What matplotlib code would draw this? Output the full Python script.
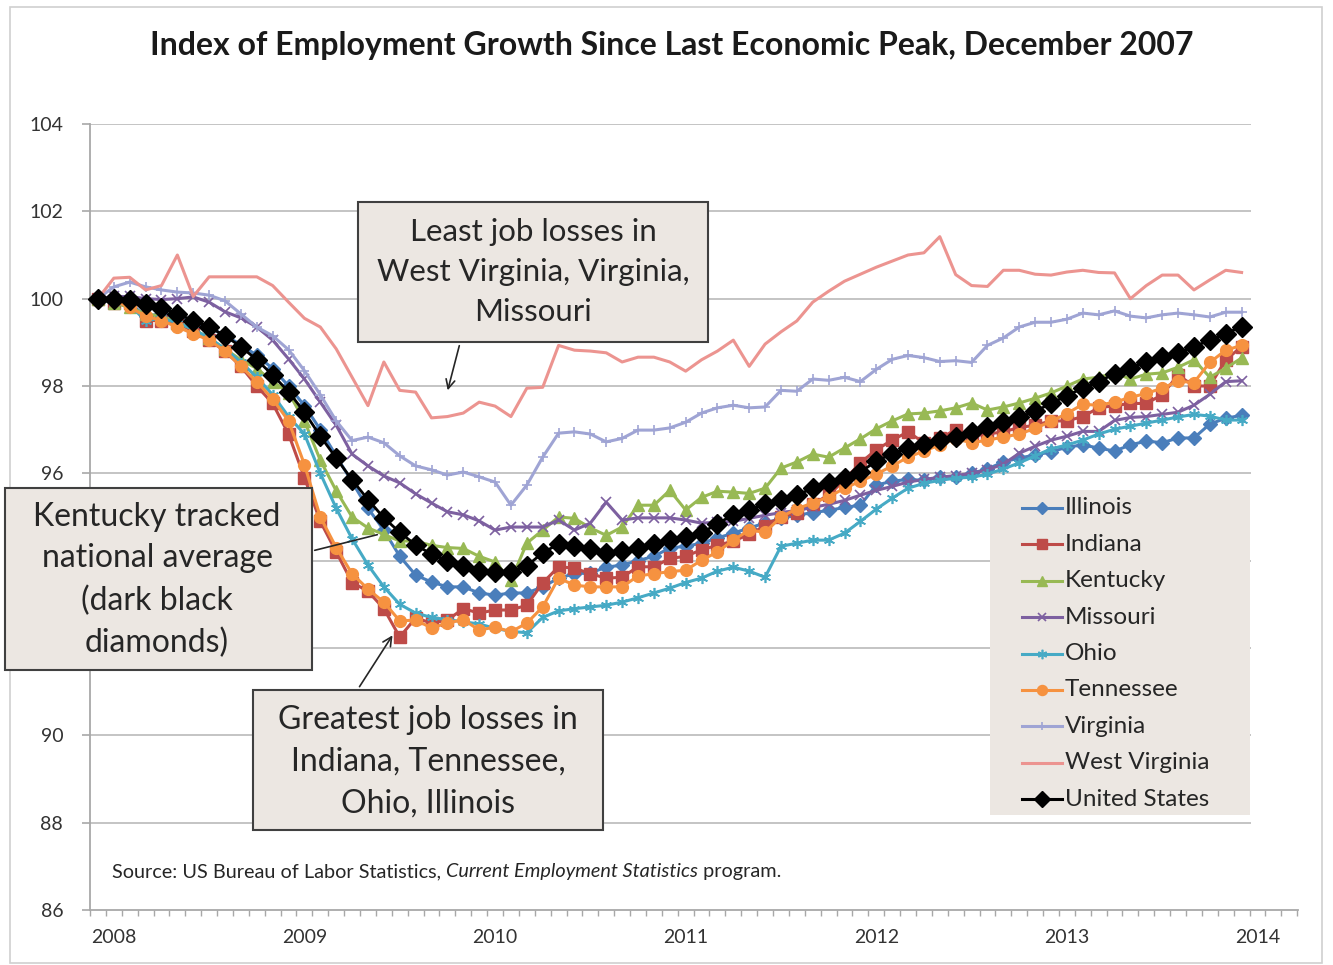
import matplotlib
matplotlib.use('Agg')
import matplotlib.pyplot as plt
from matplotlib.patches import Rectangle, FancyArrowPatch
from matplotlib.lines import Line2D
import numpy as np

# ---------------- data (index, Dec 2007 = 100), monthly Dec 2007 .. Dec 2013 ----------------
year_labels = ['2008', '2009', '2010', '2011', '2012', '2013', '2014']
# y tick labels as visible in the reference (94 and 92 are hidden behind the note box)
y_ticks = [86, 88, 90, 92, 94, 96, 98, 100, 102, 104]
y_tick_labels = ['86', '88', '90', '', '', '96', '98', '100', '102', '104']

illinois = [100.0, 99.95, 99.9, 99.6, 99.65, 99.55, 99.45, 99.35, 99.15, 98.95, 98.7, 98.4, 98.0, 97.55, 97.0, 96.4, 95.8, 95.2, 94.7, 94.1,
            93.67, 93.51, 93.4, 93.4, 93.26, 93.21, 93.26, 93.26, 93.4, 93.6, 93.7, 93.72, 93.85, 93.9, 94.0, 94.1,
            94.29, 94.33, 94.4, 94.52, 94.63, 94.75, 94.86, 94.97, 95.04, 95.1, 95.15, 95.22, 95.27, 95.73, 95.82, 95.86, 95.84, 95.91, 95.91, 96.0, 96.1,
            96.26, 96.35, 96.42, 96.49, 96.6, 96.65, 96.58, 96.51, 96.65, 96.74, 96.7, 96.81, 96.81, 97.13, 97.26, 97.33]

indiana = [100.0, 99.9, 99.9, 99.5, 99.5, 99.45, 99.25, 99.05, 98.8, 98.45, 98.0, 97.6, 96.9, 95.9, 94.9, 94.2, 93.5, 93.3, 92.9, 92.25,
           92.69, 92.57, 92.64, 92.9, 92.8, 92.87, 92.87, 92.98, 93.49, 93.86, 93.83, 93.7, 93.6, 93.62, 93.86, 93.86,
           94.05, 94.1, 94.25, 94.35, 94.45, 94.6, 94.8, 95.0, 95.1, 95.3, 95.5, 95.85, 96.24, 96.54, 96.76, 96.95,
           96.7, 96.8, 97.0, 96.85, 96.9, 96.95, 97.05, 97.1, 97.2, 97.2, 97.3, 97.5, 97.55, 97.6, 97.6, 97.8, 98.25, 98.0, 98.0, 98.6, 98.9]

kentucky = [100.0, 99.9, 99.8, 99.65, 99.6, 99.45, 99.3, 99.1, 98.85, 98.6, 98.4, 98.1, 97.85, 97.2, 96.3, 95.6, 95.0, 94.75, 94.6, 94.45, 94.45, 94.35,
            94.3, 94.28, 94.1, 93.97, 93.55, 94.4, 94.7, 95.0, 94.97, 94.75, 94.58, 94.77, 95.27, 95.27, 95.61, 95.16, 95.45,
            95.59, 95.57, 95.54, 95.66, 96.12, 96.26, 96.44, 96.37, 96.58, 96.79, 97.02, 97.2, 97.36, 97.38, 97.43, 97.5, 97.61, 97.45,
            97.52, 97.61, 97.72, 97.84, 98.0, 98.16, 98.2, 98.3, 98.16, 98.27, 98.3, 98.43, 98.6, 98.2, 98.41, 98.64]

missouri = [100.0, 100.05, 100.05, 100.0, 99.98, 100.0, 100.04, 99.92, 99.7, 99.56, 99.35, 99.05, 98.62, 98.16, 97.63, 97.1, 96.44, 96.17, 95.94, 95.78,
            95.53, 95.32, 95.12, 95.05, 94.91, 94.7, 94.77, 94.77, 94.77, 94.93, 94.7, 94.86, 95.34, 94.93, 94.98, 94.98, 94.98, 94.93, 94.86,
            94.88, 94.9, 94.97, 95.04, 95.1, 95.15, 95.22, 95.29, 95.38, 95.5, 95.61, 95.7, 95.8, 95.86, 95.91, 95.95, 96.0,
            96.08, 96.21, 96.46, 96.62, 96.76, 96.85, 96.96, 96.96, 97.21, 97.28, 97.3, 97.35, 97.4, 97.56, 97.81, 98.1, 98.12]

ohio = [100.0, 99.9, 99.85, 99.5, 99.55, 99.45, 99.3, 99.1, 98.85, 98.55, 98.2, 97.8, 97.3, 96.9, 96.0, 95.2, 94.5, 93.9, 93.4, 93.0,
        92.8, 92.7, 92.65, 92.6, 92.55, 92.45, 92.38, 92.35, 92.7, 92.85, 92.9, 92.94, 92.98, 93.05, 93.15, 93.26, 93.37,
        93.5, 93.6, 93.76, 93.85, 93.76, 93.62, 94.33, 94.4, 94.47, 94.47, 94.63, 94.9, 95.18, 95.43, 95.66, 95.77, 95.84, 95.89, 95.91, 95.98,
        96.1, 96.24, 96.4, 96.56, 96.65, 96.76, 96.9, 97.01, 97.08, 97.15, 97.22, 97.29, 97.35, 97.31, 97.22, 97.22]

tennessee = [100.0, 99.95, 99.8, 99.6, 99.5, 99.35, 99.2, 99.05, 98.8, 98.45, 98.1, 97.7, 97.2, 96.2, 95.0, 94.3, 93.7, 93.35, 93.05, 92.62,
             92.64, 92.46, 92.57, 92.65, 92.41, 92.48, 92.37, 92.57, 92.94, 93.6, 93.44, 93.4, 93.4, 93.4, 93.65, 93.7, 93.75, 93.78, 94.01, 94.2, 94.47, 94.7, 94.65,
             95.0, 95.19, 95.32, 95.46, 95.66, 95.82, 95.98, 96.17, 96.37, 96.51, 96.65, 96.79, 96.7, 96.76, 96.83,
             96.9, 97.03, 97.19, 97.37, 97.58, 97.56, 97.63, 97.74, 97.83, 97.95, 98.11, 98.08, 98.54, 98.82, 98.93]

virginia = [100.0, 100.27, 100.38, 100.27, 100.2, 100.15, 100.13, 100.08, 99.95, 99.65, 99.35, 99.15, 98.83, 98.35, 97.8, 97.2, 96.75, 96.83, 96.7, 96.4,
            96.17, 96.08, 95.96, 96.03, 95.92, 95.8, 95.27, 95.73, 96.37, 96.92, 96.95, 96.9, 96.72, 96.8, 96.99, 96.99, 97.04, 97.17, 97.38,
            97.5, 97.56, 97.5, 97.52, 97.9, 97.88, 98.16, 98.13, 98.2, 98.1, 98.38, 98.61, 98.7, 98.65, 98.56, 98.58, 98.54, 98.93,
            99.1, 99.35, 99.46, 99.46, 99.53, 99.67, 99.63, 99.72, 99.6, 99.56, 99.63, 99.67, 99.63, 99.58, 99.69, 99.69]

west_virginia = [100.0, 100.47, 100.49, 100.2, 100.3, 101.0, 100.05, 100.5, 100.5, 100.5, 100.5, 100.3, 99.92,
                 99.55, 99.35, 98.85, 98.2, 97.55, 98.55, 97.9, 97.86, 97.27, 97.3, 97.38, 97.63, 97.54,
                 97.3, 97.95, 97.97, 98.93, 98.82, 98.8, 98.76, 98.55, 98.66, 98.66, 98.55, 98.34, 98.6,
                 98.8, 99.05, 98.45, 98.96, 99.24, 99.49, 99.92, 100.17, 100.4, 100.56, 100.72, 100.86, 101.0,
                 101.05, 101.42, 100.55, 100.3, 100.28, 100.65, 100.65, 100.56, 100.54, 100.61, 100.65, 100.6, 100.59,
                 100.0, 100.3, 100.54, 100.54, 100.2, 100.43, 100.65, 100.6]

united_states = [100.0, 100.0, 99.96, 99.88, 99.78, 99.65, 99.5, 99.35, 99.15, 98.9, 98.6, 98.25, 97.87, 97.4, 96.85, 96.35, 95.85, 95.4, 94.98, 94.65,
                 94.36, 94.15, 94.0, 93.88, 93.77, 93.74, 93.74, 93.88, 94.18, 94.38, 94.34, 94.27, 94.18, 94.22, 94.29, 94.38, 94.47, 94.54, 94.63,
                 94.85, 95.05, 95.16, 95.3, 95.4, 95.5, 95.66, 95.78, 95.89, 96.03, 96.28, 96.45, 96.58, 96.68, 96.76, 96.83, 96.94, 97.06,
                 97.17, 97.28, 97.42, 97.6, 97.78, 97.95, 98.1, 98.28, 98.42, 98.55, 98.66, 98.76, 98.9, 99.05, 99.2, 99.36]

series_names = ['Illinois', 'Indiana', 'Kentucky', 'Missouri', 'Ohio', 'Tennessee', 'Virginia', 'West Virginia', 'United States']
series_values = [illinois, indiana, kentucky, missouri, ohio, tennessee, virginia, west_virginia, united_states]

# ---------------- styles ----------------
ASTER = (6, 2, 0)
styles = {
    'Illinois':      dict(color='#4a7ebb', marker='D', ms=7,  mew=1.0),
    'Indiana':       dict(color='#be4b48', marker='s', ms=8,  mew=1.0),
    'Kentucky':      dict(color='#98b954', marker='^', ms=9,  mew=1.0),
    'Missouri':      dict(color='#7d60a0', marker='x', ms=7,  mew=1.2),
    'Ohio':          dict(color='#46aac5', marker=ASTER, ms=8, mew=1.2),
    'Tennessee':     dict(color='#f69240', marker='o', ms=8.5, mew=1.0),
    'Virginia':      dict(color='#9fa4d4', marker='+', ms=7,  mew=1.2),
    'West Virginia': dict(color='#ec9490', marker=None, ms=0, mew=1.0),
    'United States': dict(color='#000000', marker='D', ms=10.5, mew=1.0),
}

W, H = 1333, 965
fig = plt.figure(figsize=(W / 100, H / 100), dpi=100)
fig.patch.set_facecolor('white')
FONT = 'Lato'


def fx(px):
    return px / W


def fy(py):
    return 1 - py / H


# outer chart border
fig.add_artist(Rectangle((fx(10), fy(963)), fx(1322) - fx(10), fy(7) - fy(963),
                         transform=fig.transFigure, facecolor='none', edgecolor='#d0d0d0', lw=1.2, zorder=0))

ax = fig.add_axes([fx(90), fy(910), fx(1298) - fx(90), fy(124) - fy(910)])
ax.set_facecolor('none')
n = len(united_states)
x = np.arange(n)
ax.set_xlim(-0.5, 75.55)
ax.set_ylim(86, 104)

# gridlines
ax.hlines(np.arange(88, 105, 2), -0.5, 72.6, colors='#c4c4c4', lw=1.4, zorder=0.5)

for spine in ['top', 'right']:
    ax.spines[spine].set_visible(False)
for spine in ['left', 'bottom']:
    ax.spines[spine].set_color('#a8a8a8')
    ax.spines[spine].set_linewidth(1.3)

ax.set_yticks(y_ticks)
ax.set_yticklabels(y_tick_labels)
ax.tick_params(axis='y', length=5.8, width=1.2, color='#a8a8a8', pad=13.5,
               labelsize=14, labelcolor='#333333')
ax.set_xticks([1 + 12 * k for k in range(len(year_labels))])
ax.set_xticklabels(year_labels)
ax.tick_params(axis='x', which='major', length=0, pad=14, labelsize=14, labelcolor='#333333')
ax.set_xticks(np.arange(-0.5, 76, 1), minor=True)
ax.tick_params(axis='x', which='minor', length=4.5, width=1.0, color='#a8a8a8', direction='out')
for lab in ax.get_xticklabels() + ax.get_yticklabels():
    lab.set_family(FONT)

for k, (name, vals) in enumerate(zip(series_names, series_values)):
    st = styles[name]
    lw = 2.2 if name != 'United States' else 2.0
    ax.plot(x, vals, color=st['color'], lw=lw, marker=st['marker'], ms=st['ms'],
            mew=st['mew'], mec=st['color'], mfc=st['color'], zorder=2 + k, clip_on=False)

# title
fig.text(fx(672), fy(45), 'Index of Employment Growth Since Last Economic Peak, December 2007',
         ha='center', va='center', fontsize=23, fontweight='bold', family=FONT, color='#1a1a1a')

# source line (mixed italic)
renderer = fig.canvas.get_renderer()
parts = [('Source: US Bureau of Labor Statistics, ', 'normal'),
         ('Current Employment Statistics', 'italic'),
         (' program.', 'normal')]
xcur = 112
for txt, style in parts:
    t = fig.text(fx(xcur), fy(872), txt, ha='left', va='center', fontsize=14.3,
                 style=style, family=FONT, color='#262626', zorder=5)
    bb = t.get_window_extent(renderer=renderer)
    xcur += bb.width

BOX_FC = '#ece7e2'
BOX_EC = '#404040'


def note_box(x0, y0, x1, y1, text, tx, ty, fs=22.5, ls=1.5):
    fig.add_artist(Rectangle((fx(x0), fy(y1)), fx(x1) - fx(x0), fy(y0) - fy(y1),
                             transform=fig.transFigure, facecolor=BOX_FC, edgecolor=BOX_EC,
                             lw=1.5, zorder=20))
    fig.text(fx(tx), fy(ty), text, ha='center', va='center', multialignment='center',
             fontsize=fs, family=FONT, color='#262626', linespacing=ls, zorder=21)


def arrow(p0, p1, head=True):
    fig.add_artist(FancyArrowPatch((fx(p0[0]), fy(p0[1])), (fx(p1[0]), fy(p1[1])),
                                   transform=fig.transFigure,
                                   arrowstyle='->' if head else '-', mutation_scale=16,
                                   lw=1.2, color='#262626', zorder=19))


note_box(358, 202, 708, 342, 'Least job losses in\nWest Virginia, Virginia,\nMissouri', 533, 272, fs=22.5, ls=1.54)
arrow((460, 343), (447, 393))
note_box(5, 488, 312, 670, 'Kentucky tracked\nnational average\n(dark black\ndiamonds)', 157, 580, fs=23, ls=1.49)
arrow((312, 551), (380, 534), head=False)
note_box(253, 690, 603, 830, 'Greatest job losses in\nIndiana, Tennessee,\nOhio, Illinois', 428, 762, fs=23, ls=1.5)
arrow((358, 689), (394, 633))

# legend (manual, beige panel)
fig.add_artist(Rectangle((fx(990), fy(815)), fx(1250) - fx(990), fy(490) - fy(815),
                         transform=fig.transFigure, facecolor=BOX_FC, edgecolor='none', zorder=15))
for k, name in enumerate(series_names):
    st = styles[name]
    yy = 508 + k * 36.4
    ln = Line2D([fx(1022), fx(1042), fx(1062)], [fy(yy)] * 3, transform=fig.transFigure,
                color=st['color'], lw=2.2, marker=st['marker'], ms=min(st['ms'] * 0.85, 8),
                mew=st['mew'], mec=st['color'], mfc=st['color'], markevery=[1], zorder=16)
    fig.add_artist(ln)
    fig.text(fx(1065), fy(yy), name, ha='left', va='center', fontsize=17.5, family=FONT,
             color='#262626', zorder=16)

fig.savefig('out.png', dpi=100, facecolor='white')
